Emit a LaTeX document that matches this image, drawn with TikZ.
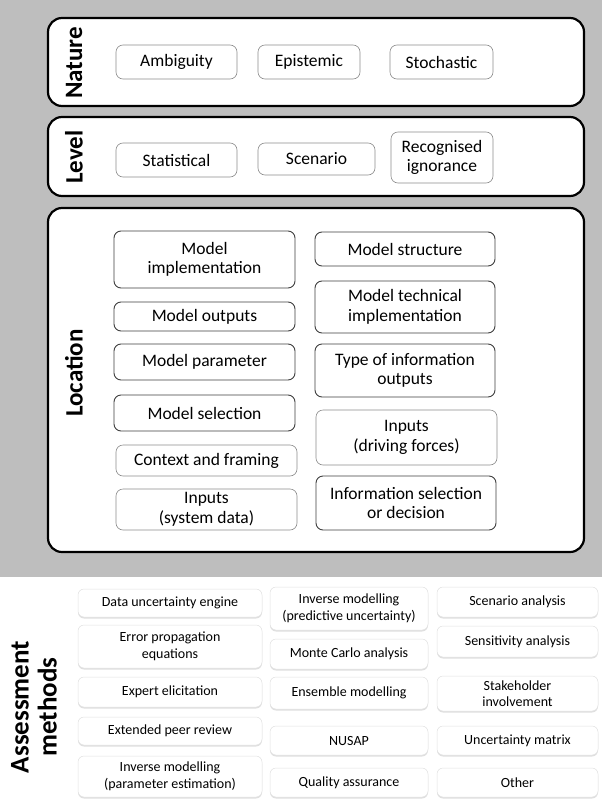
\documentclass[tikz,border=0pt]{standalone}
\usepackage{fontspec}
\setmainfont{Carlito}
\usetikzlibrary{shadows}
\definecolor{bg}{RGB}{190,190,190}
\tikzset{
  outer/.style={draw=black,line width=2.2pt,fill=white,rounded corners=14pt},
  dk/.style={draw=black!75,line width=0.9pt,fill=white,rounded corners=7pt,font=\fontsize{17.5}{19.5}\selectfont,align=center,inner sep=0pt},
  lt/.style={draw=black!45,line width=0.6pt,fill=white,rounded corners=7pt,font=\fontsize{17.5}{19.5}\selectfont,align=center,inner sep=0pt},
  am/.style={draw=black!12,line width=0.5pt,fill=white,rounded corners=6pt,font=\fontsize{14}{16.5}\selectfont,align=center,inner sep=0pt,
     drop shadow={shadow xshift=0pt,shadow yshift=-1.5pt,opacity=0.25}},
  lab/.style={rotate=90,font=\fontsize{25}{27}\selectfont\bfseries,align=center},
}
\newcommand\bx[7]{\node[#6,minimum width={(#4-#2)*1pt},minimum height={(#5-#3)*1pt}] (#1) at ({(#2+#4)/2},{-(#3+#5)/2}) {#7};}
\begin{document}
\begin{tikzpicture}[x=1pt,y=1pt]
\useasboundingbox (0,0) rectangle (602,-803);
\fill[bg] (0,0) rectangle (602,-577);
% outer boxes
\draw[outer] (48,-18) rectangle (584,-106);
\draw[outer] (48,-117) rectangle (584,-196);
\draw[outer] (48,-208) rectangle (584,-552);
\node[lab] (nature) at (74,-63) {Nature};
\node[lab] (level) at (74,-157) {Level};
\node[lab] (location) at (74,-373) {Location};
% nature
\bx{amb}{116}{45}{237}{79}{lt}{Ambiguity}
\bx{epi}{258}{45}{360}{79}{lt}{Epistemic}
\bx{sto}{390}{45}{493}{79}{lt}{Stochastic}
% level
\bx{stat}{116}{143}{237}{177}{lt}{Statistical}
\bx{scen}{258}{143}{375}{175}{lt}{Scenario}
\bx{rec}{391}{132}{493}{183}{lt}{Recognised\\ignorance}
% location left
\bx{mimp}{114}{231}{295}{288}{dk}{Model\\implementation}
\bx{mout}{114}{302}{295}{331}{dk}{Model outputs}
\bx{mpar}{114}{344}{295}{380}{dk}{Model parameter}
\bx{msel}{114}{395}{295}{431}{dk}{Model selection}
\bx{ctx}{116}{445}{297}{476}{lt}{Context and framing}
\bx{insd}{116}{489}{297}{530}{lt}{Inputs\\(system data)}
% location right
\bx{mstr}{315}{232}{495}{266}{dk}{Model structure}
\bx{mtec}{315}{281}{495}{333}{dk}{Model technical\\implementation}
\bx{type}{315}{344}{495}{397}{dk}{Type of information\\outputs}
\bx{indf}{316}{410}{497}{465}{lt}{Inputs\\(driving forces)}
\bx{isel}{316}{476}{496}{530}{dk}{Information selection\\or decision}
% assessment
\node[lab,font=\fontsize{27}{28}\selectfont\bfseries] (assess) at (34,-707) {Assessment\\methods};
\bx{a1}{78}{589}{262}{617}{am}{Data uncertainty engine}
\bx{a2}{78}{625}{262}{668}{am}{Error propagation\\equations}
\bx{a3}{78}{677}{262}{707}{am}{Expert elicitation}
\bx{a4}{78}{717}{262}{745}{am}{Extended peer review}
\bx{a5}{78}{756}{262}{797}{am}{Inverse modelling\\(parameter estimation)}
\bx{b1}{270}{587}{428}{630}{am}{Inverse modelling\\(predictive uncertainty)}
\bx{b2}{270}{639}{428}{669}{am}{Monte Carlo analysis}
\bx{b3}{270}{677}{428}{709}{am}{Ensemble modelling}
\bx{b4}{270}{726}{428}{755}{am}{NUSAP}
\bx{b5}{270}{768}{428}{797}{am}{Quality assurance}
\bx{c1}{437}{587}{598}{617}{am}{Scenario analysis}
\bx{c2}{437}{626}{598}{657}{am}{Sensitivity analysis}
\bx{c3}{437}{676}{598}{711}{am}{Stakeholder\\involvement}
\bx{c4}{437}{726}{598}{755}{am}{Uncertainty matrix}
\bx{c5}{437}{768}{598}{797}{am}{Other}
\end{tikzpicture}
\end{document}
